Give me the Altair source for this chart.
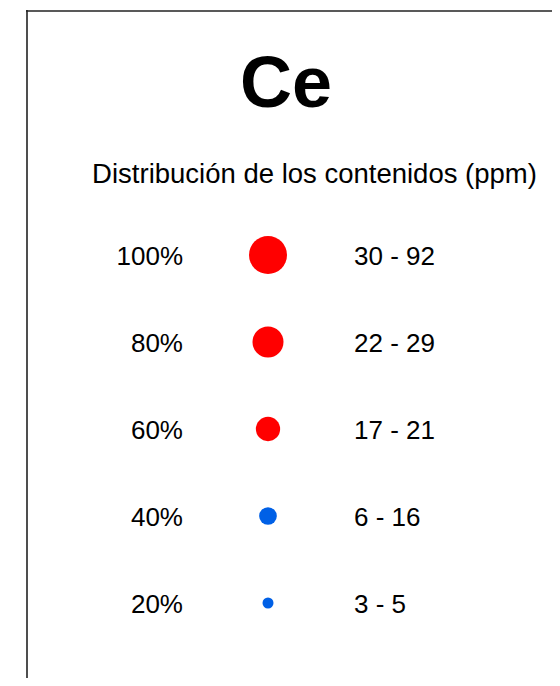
import altair as alt
import pandas as pd

# ---- data ----
element = "Ce"
subtitle = "Distribución de los contenidos (ppm)"
pct_labels = ["100%", "80%", "60%", "40%", "20%"]
pct_values = [100, 80, 60, 40, 20]
range_labels = ["30 - 92", "22 - 29", "17 - 21", "6 - 16", "3 - 5"]
groups = ["alto", "alto", "alto", "bajo", "bajo"]

df = pd.DataFrame({
    "pct": pct_values,
    "pct_label": pct_labels,
    "range": range_labels,
    "group": groups,
})

FONT = "Liberation Sans, Arial, Helvetica, sans-serif"

y_enc = alt.Y("pct:Q", axis=None,
              scale=alt.Scale(domain=[20, 100], range=[593, 245]))

base = alt.Chart(df)

dots = base.mark_point(filled=True, shape="circle", opacity=1).encode(
    x=alt.value(242),
    y=y_enc,
    size=alt.Size("pct:Q", legend=None,
                  scale=alt.Scale(domain=[20, 40, 60, 80, 100],
                                  range=[121, 313, 590, 961, 1444])),
    color=alt.Color("group:N", legend=None,
                    scale=alt.Scale(domain=["alto", "bajo"],
                                    range=["#ff0000", "#0060e6"])),
)

pct_text = base.mark_text(font=FONT, fontSize=26, align="right",
                          baseline="alphabetic", dy=10, color="#000").encode(
    x=alt.value(157),
    y=y_enc,
    text="pct_label:N",
)

range_text = base.mark_text(font=FONT, fontSize=26, align="left",
                            baseline="alphabetic", dy=10, color="#000").encode(
    x=alt.value(328),
    y=y_enc,
    text="range:N",
)

one = alt.Data(values=[{}])

title_text = alt.Chart(one).mark_text(
    font=FONT, fontSize=72, fontWeight="bold", align="center",
    baseline="alphabetic", color="#000", text=element
).encode(x=alt.value(260), y=alt.value(97))

sub_text = alt.Chart(one).mark_text(
    font=FONT, fontSize=27.5, align="center",
    baseline="alphabetic", color="#000", text=subtitle
).encode(x=alt.value(288.5), y=alt.value(173))

top_rule = alt.Chart(one).mark_rule(color="#222", strokeWidth=1.6).encode(
    x=alt.value(0), x2=alt.value(526), y=alt.value(1)
)
left_rule = alt.Chart(one).mark_rule(color="#222", strokeWidth=1.6).encode(
    x=alt.value(1), y=alt.value(0), y2=alt.value(668)
)

chart = alt.layer(
    top_rule, left_rule, title_text, sub_text, dots, pct_text, range_text
).properties(
    width=526, height=668,
    autosize=alt.AutoSizeParams(type="none"),
    padding={"left": 18, "top": 2, "right": 0, "bottom": 0},
    background="white",
).configure_view(strokeWidth=0)

chart.save("out.html", embed_options={"renderer": "svg", "actions": False})
